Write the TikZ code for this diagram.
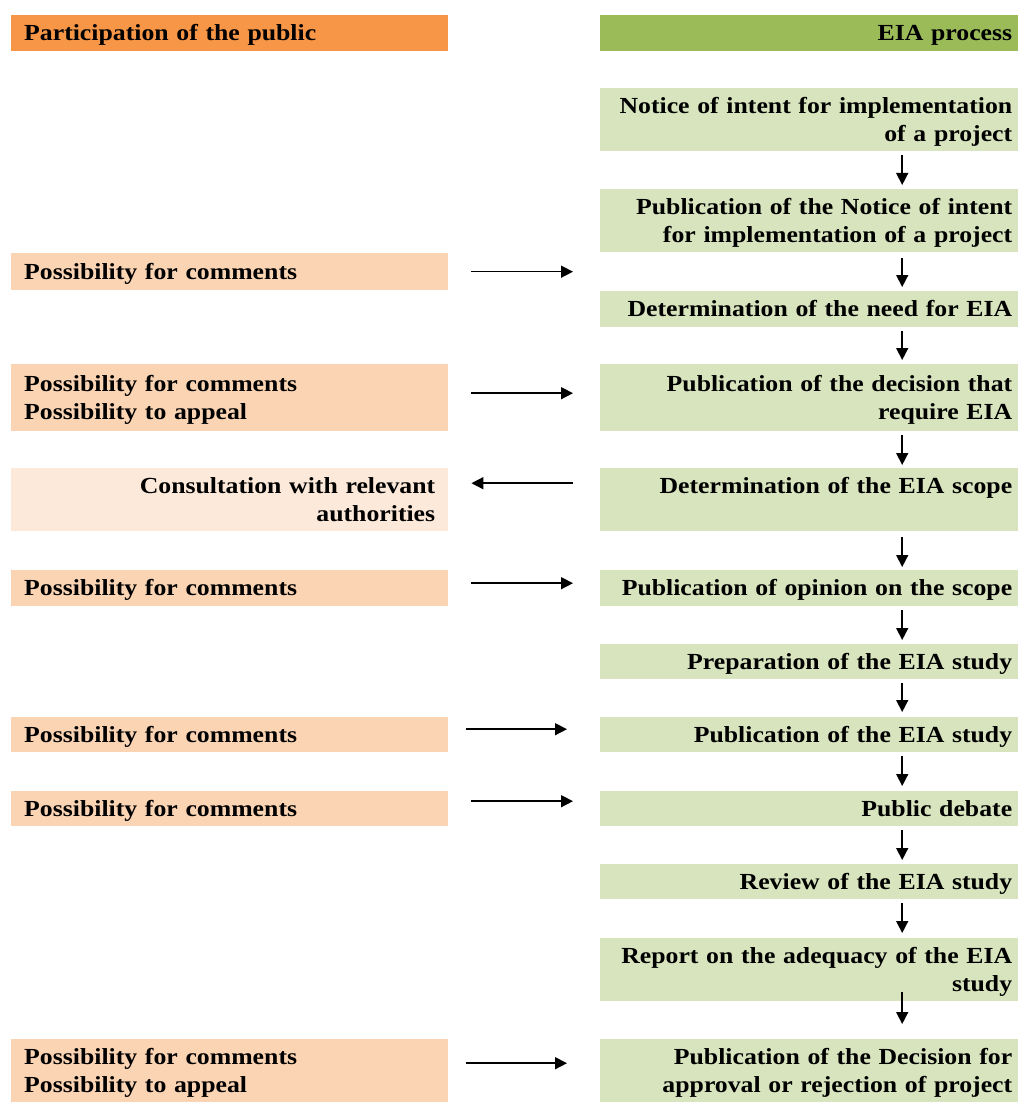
\documentclass[tikz,border=0pt]{standalone}
\usepackage{fontspec}
\setmainfont{Liberation Serif}[FakeStretch=1.12]
\usetikzlibrary{arrows.meta}
\definecolor{hdrorange}{HTML}{F79646}
\definecolor{hdrgreen}{HTML}{9BBB59}
\definecolor{lgreen}{HTML}{D7E4BD}
\definecolor{peach}{HTML}{FBD4B4}
\definecolor{lpeach}{HTML}{FDE9D9}
\DeclareRobustCommand\myboxfont{\fontsize{23}{28}\selectfont\bfseries\spaceskip=3.5pt plus 1pt minus 1pt\relax}
\tikzset{
  base/.style={rectangle, draw=none, inner ysep=0pt, anchor=north west, font=\myboxfont,
    execute at begin node={\rule{0pt}{21pt}},
    execute at end node={\rule[-6pt]{0pt}{6pt}}},
  rbox/.style={base, fill=lgreen, inner xsep=6pt, text width=406pt, align=right, minimum width=418pt},
  lbox/.style={base, fill=peach, inner xsep=13pt, text width=411pt, align=left, minimum width=437pt},
  lboxr/.style={lbox, fill=lpeach, align=right},
  hdrl/.style={lbox, fill=hdrorange},
  hdrr/.style={rbox, fill=hdrgreen},
  arr/.style={-{Triangle[length=12pt,width=12pt]}, line width=1.5pt, black},
}
\begin{document}
\begin{tikzpicture}[x=1pt,y=-1pt]
\useasboundingbox (0,0) rectangle (1018,1102);
% headers
\node[hdrl, minimum height=36pt] (hl) at (11,15) {Participation of the public};
\node[hdrr, minimum height=36pt] (hr) at (600,15) {EIA process};
% EIA process column
\node[rbox, minimum height=63pt] (r1) at (600,88) {Notice of intent for implementation\\of a project};
\node[rbox, minimum height=63pt] (r2) at (600,189) {Publication of the Notice of intent\\for implementation of a project};
\node[rbox, minimum height=36pt] (r3) at (600,291) {Determination of the need for EIA};
\node[rbox, minimum height=67pt] (r4) at (600,364) {Publication of the decision that\\require EIA};
\node[rbox, minimum height=63pt] (r5) at (600,468) {Determination of the EIA scope\\\mbox{}};
\node[rbox, minimum height=36pt] (r6) at (600,570) {Publication of opinion on the scope};
\node[rbox, minimum height=35pt] (r7) at (600,644) {Preparation of the EIA study};
\node[rbox, minimum height=35pt] (r8) at (600,717) {Publication of the EIA study};
\node[rbox, minimum height=35pt] (r9) at (600,791) {Public debate};
\node[rbox, minimum height=35pt] (r10) at (600,864) {Review of the EIA study};
\node[rbox, minimum height=63pt] (r11) at (600,938) {Report on the adequacy of the EIA\\study};
\node[rbox, minimum height=63pt] (r12) at (600,1039) {Publication of the Decision for\\approval or rejection of project};
% public column
\node[lbox, minimum height=37pt] (l1) at (11,253) {Possibility for comments};
\node[lbox, minimum height=67pt] (l2) at (11,364) {Possibility for comments\\Possibility to appeal};
\node[lboxr, minimum height=63pt] (l3) at (11,468) {Consultation with relevant\\authorities};
\node[lbox, minimum height=36pt] (l4) at (11,570) {Possibility for comments};
\node[lbox, minimum height=35pt] (l5) at (11,717) {Possibility for comments};
\node[lbox, minimum height=35pt] (l6) at (11,791) {Possibility for comments};
\node[lbox, minimum height=63pt] (l7) at (11,1039) {Possibility for comments\\Possibility to appeal};
% vertical arrows
\draw[arr, shorten <=4pt, shorten >=4pt] ([xshift=93pt]r1.south) -- ([xshift=93pt]r2.north);
\draw[arr, shorten <=6pt, shorten >=4pt] ([xshift=93pt]r2.south) -- ([xshift=93pt]r3.north);
\draw[arr, shorten <=4pt, shorten >=4pt] ([xshift=93pt]r3.south) -- ([xshift=93pt]r4.north);
\draw[arr, shorten <=4pt, shorten >=3pt] ([xshift=93pt]r4.south) -- ([xshift=93pt]r5.north);
\draw[arr, shorten <=6pt, shorten >=3pt] ([xshift=93pt]r5.south) -- ([xshift=93pt]r6.north);
\draw[arr, shorten <=4pt, shorten >=4pt] ([xshift=93pt]r6.south) -- ([xshift=93pt]r7.north);
\draw[arr, shorten <=4pt, shorten >=5pt] ([xshift=93pt]r7.south) -- ([xshift=93pt]r8.north);
\draw[arr, shorten <=4pt, shorten >=5pt] ([xshift=93pt]r8.south) -- ([xshift=93pt]r9.north);
\draw[arr, shorten <=4pt, shorten >=4pt] ([xshift=93pt]r9.south) -- ([xshift=93pt]r10.north);
\draw[arr, shorten <=4pt, shorten >=5pt] ([xshift=93pt]r10.south) -- ([xshift=93pt]r11.north);
\draw[arr, shorten <=-9pt, shorten >=15pt] ([xshift=93pt]r11.south) -- ([xshift=93pt]r12.north);
% horizontal arrows
\draw[arr, shorten <=23pt, shorten >=27pt] (l1.east) -- (l1.east -| r3.west);
\draw[arr, shorten <=23pt, shorten >=27pt] ([yshift=4.5pt]l2.east) -- ([yshift=4.5pt]r4.west);
\draw[arr, shorten <=27pt, shorten >=23pt] ([yshift=16.5pt]r5.west) -- ([yshift=16.5pt]l3.east);
\draw[arr, shorten <=23pt, shorten >=27pt] ([yshift=5pt]l4.east) -- ([yshift=5pt]r6.west);
\draw[arr, shorten <=18pt, shorten >=33pt] ([yshift=5.5pt]l5.east) -- ([yshift=5.5pt]r8.west);
\draw[arr, shorten <=23pt, shorten >=27pt] ([yshift=7.5pt]l6.east) -- ([yshift=7.5pt]r9.west);
\draw[arr, shorten <=18pt, shorten >=33pt] ([yshift=7.5pt]l7.east) -- ([yshift=7.5pt]r12.west);
\end{tikzpicture}
\end{document}
